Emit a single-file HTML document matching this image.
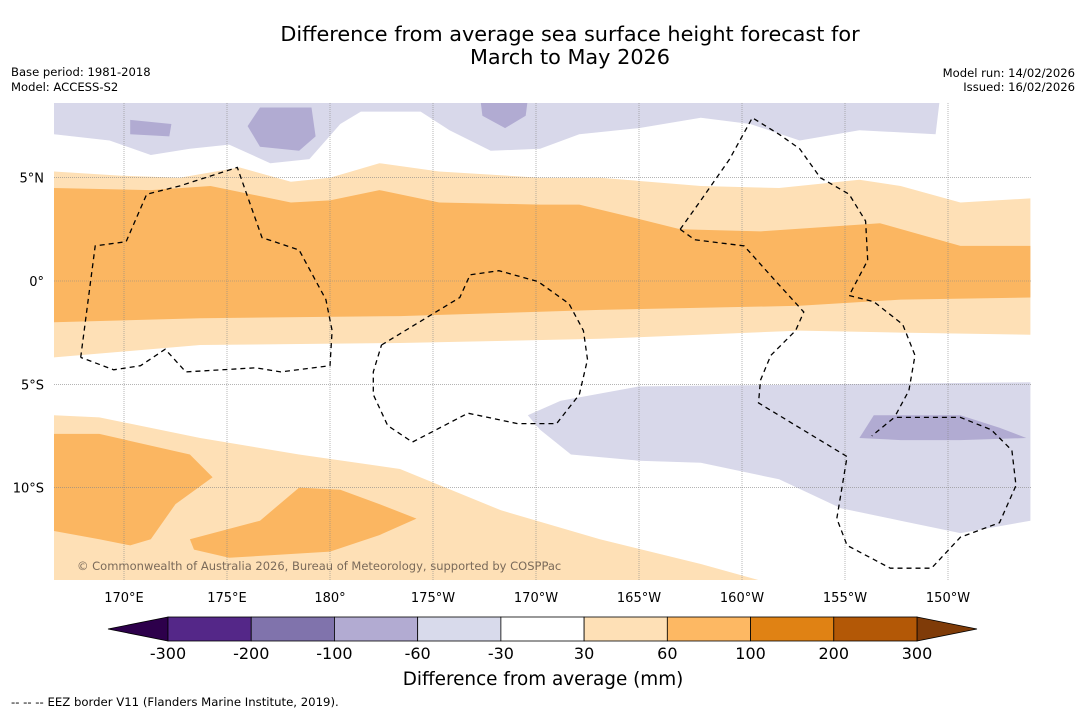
<!DOCTYPE html>
<html><head><meta charset="utf-8"><style>
body{margin:0;background:#fff;font-family:"DejaVu Sans",sans-serif;}
svg{display:block}
</style></head><body>
<svg width="1085" height="713" viewBox="0 0 1085 713" xmlns="http://www.w3.org/2000/svg" font-family="DejaVu Sans, sans-serif">
<text x="570" y="41" font-size="20.8" text-anchor="middle">Difference from average sea surface height forecast for</text>
<text x="570" y="64" font-size="20.8" text-anchor="middle">March to May 2026</text>
<text x="11" y="76" font-size="11.6">Base period: 1981-2018</text>
<text x="11" y="91" font-size="11.6">Model: ACCESS-S2</text>
<text x="1075" y="77" font-size="11.6" text-anchor="end">Model run: 14/02/2026</text>
<text x="1075" y="91" font-size="11.6" text-anchor="end">Issued: 16/02/2026</text>
<defs><clipPath id="mc"><rect x="54" y="103" width="977" height="477"/></clipPath></defs>
<g id="map" clip-path="url(#mc)"></g>
<g id="grid"></g>
<g id="eez" clip-path="url(#mc)"></g>
<g id="ticks"></g>
<text x="77" y="570" font-size="11.5" fill="#7a6a5a">© Commonwealth of Australia 2026, Bureau of Meteorology, supported by COSPPac</text>
<g id="cbar"></g>
<text x="543" y="685" font-size="18.4" text-anchor="middle">Difference from average (mm)</text>
<text x="11" y="706" font-size="11.7">--  --  -- EEZ border V11 (Flanders Marine Institute, 2019).</text>
</svg>
<script>
const NS='http://www.w3.org/2000/svg';
const lonTicks=[170,175,180,185,190,195,200,205,210];
const lonLabels=['170°E','175°E','180°','175°W','170°W','165°W','160°W','155°W','150°W'];
const latTicks=[5,0,-5,-10];
const latLabels=['5°N','0°','5°S','10°S'];
const levels=['-300','-200','-100','-60','-30','30','60','100','200','300'];
const levelColors=['#542788','#8073ac','#b2abd2','#d8daeb','#ffffff','#fee0b6','#fdb863','#e08214','#b35806'];
const underColor='#2d004b', overColor='#7f3b08';
const lightOrangeTop=[[166.6,5.3],[169.8,5.1],[172.7,5.0],[175.6,5.5],[178.1,4.8],[180,5.0],[182.4,5.7],[185.3,5.3],[190.2,5.0],[193.1,5.0],[198,4.6],[201.8,4.5],[205.7,4.9],[207.7,4.6],[210.6,3.8],[214,4.0]];
const lightOrangeBottom=[[166.6,-3.7],[173.7,-3.1],[183.4,-3.0],[193.1,-2.8],[202.8,-2.4],[207.7,-2.5],[214,-2.6]];
const orangeTop=[[166.6,4.5],[171.3,4.4],[174.2,4.6],[178.1,3.8],[180,3.9],[182.4,4.4],[185.3,3.8],[190.2,3.7],[192.1,3.7],[195,3.0],[197,2.5],[200.9,2.4],[206.7,2.8],[210.6,1.7],[214,1.7]];
const orangeBottom=[[166.6,-2.0],[173.7,-1.8],[183.4,-1.7],[193.1,-1.4],[202.8,-1.2],[207.7,-0.9],[214,-0.8]];
const lavenderTop=[[166.6,8.8],[166.6,7.1],[169.3,6.8],[171.3,6.1],[173.2,6.4],[175.1,6.6],[177.1,5.7],[179,5.9],[180.5,7.6],[181.5,8.2],[184.4,8.2],[185.8,7.3],[187.8,6.3],[190.2,6.4],[192.1,7.1],[195,7.4],[198,7.9],[200.4,7.6],[202.8,6.8],[205.7,7.3],[209.4,7.1],[209.6,8.8]];
const darkLavTop1=[[170.3,7.8],[172.3,7.6],[172.2,7.0],[170.3,7.1]];
const darkLavTop2=[[176.6,8.4],[179.1,8.4],[179.3,7.0],[178.5,6.3],[176.6,6.5],[176,7.5]];
const darkLavTop3=[[187.3,8.8],[189.6,8.8],[189.5,8.0],[188.5,7.4],[187.4,8.0]];
const lavenderBottom=[[189.6,-6.5],[191.2,-5.8],[195,-5.1],[214,-4.9],[214,-11.6],[210.6,-12.2],[207.7,-11.6],[204.8,-11.0],[201.8,-9.6],[198,-8.8],[195,-8.7],[191.7,-8.4],[190.2,-7.2]];
const darkLavBottom=[[205.7,-7.6],[206.4,-6.5],[210.6,-6.5],[212.5,-7.1],[213.8,-7.6],[210.6,-7.7],[207.7,-7.7]];
const lightOrangeSW=[[166.6,-6.5],[168.8,-6.6],[173.7,-7.6],[178.5,-8.4],[183.4,-9.1],[188.3,-11.1],[193.1,-12.5],[198,-13.7],[200.9,-14.5],[200.9,-15],[166.6,-15]];
const orangeSW1=[[166.6,-7.4],[168.8,-7.4],[173.2,-8.4],[174.3,-9.5],[172.5,-10.8],[171.3,-12.5],[170.3,-12.8],[168.8,-12.5],[166.6,-12.1]];
const orangeSW2=[[173.2,-12.5],[176.6,-11.6],[178.5,-10.0],[180.5,-10.1],[182.4,-10.8],[184.2,-11.5],[182.4,-12.3],[180,-13.1],[175.1,-13.4],[173.4,-13.0]];
const eezLines=[
[[167.9,-3.7],[168.6,1.7],[170.1,1.9],[171.1,4.2],[172.7,4.6],[175.5,5.5],[176.7,2.1],[178.5,1.5],[179.8,-0.9],[180.1,-2.4],[180,-4.1],[177.6,-4.4],[176.4,-4.2],[173,-4.4],[172,-3.3],[170.8,-4.1],[169.5,-4.3],[167.9,-3.7]],
[[182.5,-3.1],[186.3,-0.8],[186.8,0.3],[188.2,0.5],[190.1,-0.03],[191.6,-1.1],[192.3,-2.4],[192.5,-3.8],[192.1,-5.5],[191,-6.9],[189.1,-6.9],[186.7,-6.4],[184,-7.8],[182.8,-7.0],[182.1,-5.5],[182.1,-4.4],[182.5,-3.1]],
[[197,2.5],[198,3.9],[199.4,5.9],[200.5,7.9],[201.8,7.1],[202.8,6.4],[203.8,5.0],[205.2,4.2],[206,2.9],[206.1,1.0],[205.2,-0.7],[206.4,-1.0],[207.8,-2.1],[208.4,-3.6],[208.1,-5.3],[207.4,-6.6]],
[[197,2.5],[197.7,2.0],[200.1,1.7],[201.6,0.03],[203,-1.5],[202.6,-2.4],[201.4,-3.6],[200.9,-4.8],[200.8,-5.9],[205.1,-8.5],[204.6,-11.5],[205.1,-12.8],[207.2,-13.9],[209.2,-13.9],[210.6,-12.4],[212.5,-11.7],[213.3,-9.9],[213.1,-8.2],[212.1,-7.2],[210.6,-6.6],[207.4,-6.6],[206.3,-7.5]]
];
const xs=lon=>124+(lon-170)*20.6;
const ys=lat=>281-lat*20.66;
const map=document.getElementById('map');
function poly(pts,fill,name){
  const p=document.createElementNS(NS,'polygon');
  p.setAttribute('points',pts.map(d=>xs(d[0]).toFixed(1)+','+ys(d[1]).toFixed(1)).join(' '));
  p.setAttribute('fill',fill);
  
  
  map.appendChild(p);
}
poly(lightOrangeTop.concat(lightOrangeBottom.slice().reverse()),'#fee0b6','contour-30-60-equatorial');
poly(orangeTop.concat(orangeBottom.slice().reverse()),'#fbb661','contour-60-100-equatorial');
poly(lavenderTop,'#d8d8ea','contour-minus30-60-north');
poly(darkLavTop1,'#b1abd2','contour-minus60-100-north-1');
poly(darkLavTop2,'#b1abd2','contour-minus60-100-north-2');
poly(darkLavTop3,'#b1abd2','contour-minus60-100-north-3');
poly(lavenderBottom,'#d8d8ea','contour-minus30-60-south');
poly(darkLavBottom,'#b1abd2','contour-minus60-100-south');
poly(lightOrangeSW,'#fee0b6','contour-30-60-southwest');
poly(orangeSW1,'#fbb661','contour-60-100-southwest-1');
poly(orangeSW2,'#fbb661','contour-60-100-southwest-2');
const grid=document.getElementById('grid'), ticks=document.getElementById('ticks');
lonTicks.forEach((lon,i)=>{
  const l=document.createElementNS(NS,'line');
  l.setAttribute('x1',xs(lon));l.setAttribute('x2',xs(lon));l.setAttribute('y1',103);l.setAttribute('y2',580);
  l.setAttribute('stroke','#888');l.setAttribute('stroke-width','0.6');l.setAttribute('stroke-dasharray','1,1');
  
  
  grid.appendChild(l);
  const t=document.createElementNS(NS,'text');
  t.setAttribute('x',xs(lon));t.setAttribute('y',602);t.setAttribute('font-size','13');t.setAttribute('text-anchor','middle');
  t.textContent=lonLabels[i];
  
  
  ticks.appendChild(t);
});
latTicks.forEach((lat,i)=>{
  const l=document.createElementNS(NS,'line');
  l.setAttribute('x1',54);l.setAttribute('x2',1031);l.setAttribute('y1',ys(lat));l.setAttribute('y2',ys(lat));
  l.setAttribute('stroke','#888');l.setAttribute('stroke-width','0.6');l.setAttribute('stroke-dasharray','1,1');
  
  
  grid.appendChild(l);
  const t=document.createElementNS(NS,'text');
  t.setAttribute('x',44);t.setAttribute('y',ys(lat)+5);t.setAttribute('font-size','13');t.setAttribute('text-anchor','end');
  t.textContent=latLabels[i];
  
  
  ticks.appendChild(t);
});
const eez=document.getElementById('eez');
eezLines.forEach(line=>{
  const p=document.createElementNS(NS,'polyline');
  p.setAttribute('points',line.map(d=>xs(d[0]).toFixed(1)+','+ys(d[1]).toFixed(1)).join(' '));
  p.setAttribute('fill','none');p.setAttribute('stroke','#000');p.setAttribute('stroke-width','1.3');p.setAttribute('stroke-dasharray','5,4');
  
  
  eez.appendChild(p);
});
const cb=document.getElementById('cbar');
const cx0=168,cx1=917,cy=617,ch=24,cw=(cx1-cx0)/levelColors.length;
const tl=document.createElementNS(NS,'polygon');
tl.setAttribute('points',`${cx0},${cy} 108,${cy+ch/2} ${cx0},${cy+ch}`);tl.setAttribute('fill',underColor);tl.setAttribute('stroke','#000');tl.setAttribute('stroke-width','0.8');


cb.appendChild(tl);
const tr=document.createElementNS(NS,'polygon');
tr.setAttribute('points',`${cx1},${cy} 977,${cy+ch/2} ${cx1},${cy+ch}`);tr.setAttribute('fill',overColor);tr.setAttribute('stroke','#000');tr.setAttribute('stroke-width','0.8');


cb.appendChild(tr);
levelColors.forEach((c,i)=>{
  const r=document.createElementNS(NS,'rect');
  r.setAttribute('x',cx0+i*cw);r.setAttribute('y',cy);r.setAttribute('width',cw);r.setAttribute('height',ch);
  r.setAttribute('fill',c);r.setAttribute('stroke','#000');r.setAttribute('stroke-width','0.8');
  
  
  cb.appendChild(r);
});
levels.forEach((lv,i)=>{
  const t=document.createElementNS(NS,'text');
  t.setAttribute('x',cx0+i*cw);t.setAttribute('y',659);t.setAttribute('font-size','16');t.setAttribute('text-anchor','middle');
  t.textContent=lv;
  
  
  cb.appendChild(t);
});
</script>
</body></html>
